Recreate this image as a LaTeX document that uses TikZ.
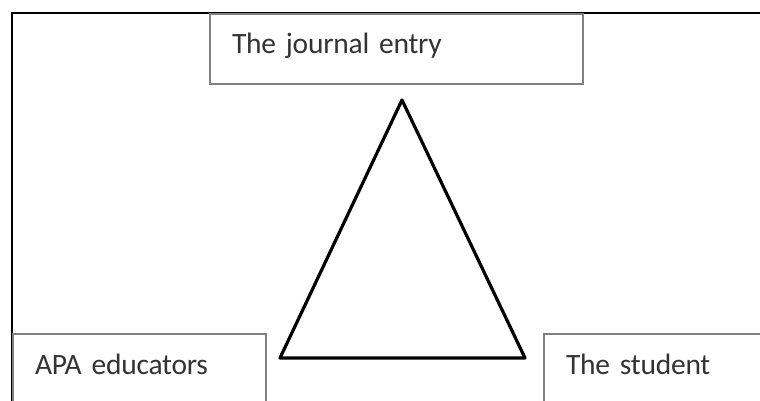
\documentclass[tikz,border=0pt]{standalone}
\usepackage{fontspec}
\setmainfont{Carlito}[WordSpace=0.3, LetterSpace=-0.8]
\usetikzlibrary{positioning}
\tikzset{
  labelbox/.style={draw=black!50, line width=2pt, rectangle, anchor=north west,
    inner xsep=22pt, inner ysep=0pt, align=left, text=black!80,
    text height=20pt, text depth=10pt, minimum height=70pt,
    font=\fontsize{29.5}{35}\selectfont},
}

\begin{document}
\begin{tikzpicture}[x=1pt, y=-1pt]
  \useasboundingbox (0,0) rectangle (760,401);
  \clip (0,0) rectangle (760,401);

  % outer frame
  \draw[line width=1.5pt] (12,450) -- (12,13) -- (800,13);

  \node[labelbox, text width=329pt] (journal) at (209,13) {The journal entry};
  \node[labelbox, text width=209pt] (educators) at (12,333) {APA educators};
  \node[labelbox, text width=216pt] (student) at (543,333) {The student};

  \coordinate (Apex)  at (402,100);
  \coordinate (Left)  at (280,358);
  \coordinate (Right) at (525,358);
  \draw[line width=3.2pt, line join=round] (Apex) -- (Left) -- (Right) -- cycle;
\end{tikzpicture}
\end{document}
